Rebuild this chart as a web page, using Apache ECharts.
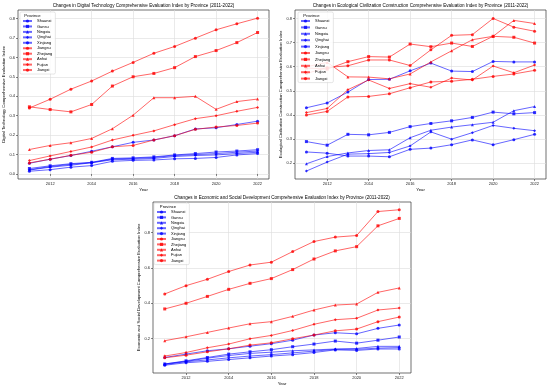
<!DOCTYPE html>
<html><head><meta charset="utf-8">
<script src="https://cdn.jsdelivr.net/npm/echarts@6/dist/echarts.min.js"></script>
<style>html,body{margin:0;padding:0;background:#fff}#c{width:550px;height:387px}</style>
</head><body><div id="c"></div>
<script>
const years = [2011,2012,2013,2014,2015,2016,2017,2018,2019,2020,2021,2022];
const provinces = ['Shaanxi','Gansu','Ningxia','Qinghai','Xinjiang','Jiangsu','Zhejiang','Anhui','Fujian','Jiangxi'];
const xTicks = [2012,2014,2016,2018,2020,2022];
const yTicksDT = [0,0.1,0.2,0.3,0.4,0.5,0.6,0.7,0.8];
const yTicksEC = [0.2,0.3,0.4,0.5,0.6,0.7,0.8];
const yTicksES = [0.2,0.4,0.6,0.8];

// Digital Technology
const dtShaanxi  = [0.055,0.076,0.095,0.117,0.140,0.163,0.175,0.197,0.232,0.238,0.255,0.272];
const dtGansu    = [0.028,0.042,0.053,0.060,0.080,0.083,0.088,0.098,0.105,0.113,0.118,0.125];
const dtNingxia  = [0.022,0.038,0.050,0.058,0.077,0.080,0.085,0.095,0.100,0.105,0.112,0.118];
const dtQinghai  = [0.020,0.035,0.045,0.058,0.073,0.076,0.080,0.090,0.095,0.098,0.105,0.112];
const dtXinjiang = [0.014,0.022,0.035,0.043,0.065,0.070,0.072,0.078,0.080,0.085,0.098,0.105];
const dtJiangsu  = [0.340,0.385,0.437,0.479,0.530,0.575,0.622,0.657,0.700,0.743,0.774,0.803];
const dtZhejiang = [0.346,0.332,0.320,0.358,0.453,0.501,0.518,0.548,0.605,0.636,0.677,0.729];
const dtAnhui    = [0.126,0.147,0.161,0.183,0.233,0.303,0.393,0.393,0.400,0.333,0.373,0.386];
const dtFujian   = [0.069,0.093,0.116,0.139,0.175,0.199,0.222,0.254,0.285,0.300,0.323,0.343];
const dtJiangxi  = [0.057,0.076,0.096,0.112,0.140,0.147,0.175,0.197,0.230,0.242,0.250,0.262];

// Ecological Civilization Construction
const ecShaanxi  = [0.430,0.450,0.495,0.547,0.548,0.583,0.615,0.582,0.580,0.622,0.620,0.620];
const ecGansu    = [0.290,0.275,0.320,0.318,0.328,0.352,0.365,0.376,0.390,0.412,0.405,0.410];
const ecNingxia  = [0.198,0.228,0.243,0.253,0.256,0.306,0.337,0.350,0.360,0.370,0.418,0.435];
const ecQinghai  = [0.168,0.205,0.238,0.240,0.245,0.272,0.330,0.300,0.327,0.357,0.345,0.335];
const ecXinjiang = [0.247,0.242,0.230,0.230,0.227,0.258,0.263,0.277,0.297,0.277,0.298,0.320];
const ecJiangsu  = [0.572,0.597,0.604,0.628,0.628,0.605,0.670,0.730,0.733,0.800,0.764,0.747];
const ecZhejiang = [0.595,0.590,0.621,0.642,0.640,0.694,0.683,0.698,0.684,0.726,0.722,0.698];
const ecAnhui    = [0.600,0.618,0.558,0.557,0.550,0.570,0.620,0.666,0.712,0.726,0.792,0.779];
const ecFujian   = [0.410,0.427,0.505,0.545,0.510,0.530,0.515,0.553,0.545,0.603,0.575,0.607];
const ecJiangxi  = [0.400,0.415,0.475,0.477,0.488,0.513,0.537,0.540,0.548,0.560,0.570,0.585];

// Economic and Social Development
const esShaanxi  = [0.092,0.111,0.130,0.141,0.156,0.170,0.190,0.219,0.232,0.226,0.257,0.276];
const esGansu    = [0.055,0.073,0.092,0.111,0.124,0.136,0.153,0.168,0.185,0.173,0.190,0.208];
const esNingxia  = [0.055,0.070,0.088,0.103,0.115,0.122,0.130,0.135,0.140,0.143,0.155,0.155];
const esQinghai  = [0.052,0.068,0.078,0.090,0.100,0.108,0.118,0.128,0.138,0.138,0.145,0.148];
const esXinjiang = [0.048,0.062,0.070,0.080,0.090,0.100,0.108,0.120,0.135,0.132,0.140,0.140];
const esJiangsu  = [0.452,0.499,0.535,0.579,0.616,0.632,0.692,0.749,0.774,0.783,0.919,0.929];
const esZhejiang = [0.367,0.399,0.438,0.478,0.512,0.539,0.590,0.650,0.696,0.720,0.838,0.880];
const esAnhui    = [0.187,0.209,0.234,0.259,0.283,0.295,0.325,0.361,0.389,0.395,0.461,0.486];
const esFujian   = [0.100,0.120,0.147,0.168,0.198,0.217,0.245,0.280,0.306,0.314,0.361,0.372];
const esJiangxi  = [0.090,0.105,0.124,0.141,0.162,0.175,0.198,0.219,0.243,0.253,0.295,0.321];

const dtData = [dtShaanxi,dtGansu,dtNingxia,dtQinghai,dtXinjiang,dtJiangsu,dtZhejiang,dtAnhui,dtFujian,dtJiangxi];
const ecData = [ecShaanxi,ecGansu,ecNingxia,ecQinghai,ecXinjiang,ecJiangsu,ecZhejiang,ecAnhui,ecFujian,ecJiangxi];
const esData = [esShaanxi,esGansu,esNingxia,esQinghai,esXinjiang,esJiangsu,esZhejiang,esAnhui,esFujian,esJiangxi];

const titles = [
 'Changes in Digital Technology Comprehensive Evaluation Index by Province (2011-2022)',
 'Changes in Ecological Civilization Construction Comprehensive Evaluation Index by Province (2011-2022)',
 'Changes in Economic and Social Development Comprehensive Evaluation Index by Province (2011-2022)'
];
const yNames = [
 'Digital Technology Comprehensive Evaluation Index',
 'Ecological Civilization Construction Comprehensive Evaluation Index',
 'Economic and Social Development Comprehensive Evaluation Index'
];

const FONT = 'Liberation Sans';
const symbols = ['circle','rect','triangle','diamond','circle','circle','rect','triangle','diamond','circle'];
const BLUE = '#0000ff', RED = '#ff0000';

const grids = [
 {left:18, top:10, width:251, height:169},
 {left:295, top:10, width:251, height:169},
 {left:153, top:202, width:258, height:171}
];
const yRanges = [[-0.026,0.845],[0.135,0.835],[0.004,0.973]];
const yTickSets = [yTicksDT, yTicksEC, yTicksES];

const series = [];
[dtData, ecData, esData].forEach((set, g) => {
  set.forEach((arr, i) => {
    const col = i < 5 ? BLUE : RED;
    series.push({
      type:'line', name: provinces[i], xAxisIndex:g, yAxisIndex:g,
      data: years.map((y,k)=>[y, arr[k]]),
      symbol: symbols[i], symbolSize: 3,
      lineStyle:{color:col, width:1, opacity:0.6},
      itemStyle:{color:col, opacity:0.8},
      emphasis:{disabled:true}, animation:false
    });
  });
});

const xAxes = grids.map((_,g)=>({
  type:'value', gridIndex:g, min:2010.45, max:2022.55,
  name:'Year', nameLocation:'middle', nameGap: g===2 ? 9 : 9,
  nameTextStyle:{fontSize:4.3, fontFamily:FONT, color:'#000'},
  axisLine:{show:false},
  axisTick:{show:true, length:2, customValues:xTicks, lineStyle:{color:'#333', width:0.6}},
  axisLabel:{fontSize:4, fontFamily:FONT, color:'#222', margin:3, customValues:xTicks, formatter:v=>String(v)},
  splitLine:{show:true, lineStyle:{color:'#dcdcdc', width:0.6}}
}));
const yAxes = grids.map((_,g)=>({
  type:'value', gridIndex:g, min:yRanges[g][0], max:yRanges[g][1],
  name:yNames[g], nameLocation:'middle', nameGap: 12,
  nameTextStyle:{fontSize:4.2, fontFamily:FONT, color:'#000'},
  axisLine:{show:false},
  axisTick:{show:true, length:2, customValues:yTickSets[g], lineStyle:{color:'#333', width:0.6}},
  axisLabel:{fontSize:4, fontFamily:FONT, color:'#222', margin:3, customValues:yTickSets[g], formatter:v=>v.toFixed(1)},
  splitLine:{show:true, lineStyle:{color:'#dcdcdc', width:0.6}}
}));

const legendPos = [
  {left:20, top:12, gap:1.45},
  {left:298, top:12, gap:2.4},
  {left:154, top:203, gap:1.4}
];
const legends = legendPos.map(p=>({
  left:p.left, top:p.top, orient:'vertical', data:provinces,
  itemWidth:9, itemHeight:4, itemGap:p.gap,
  padding:[7,3,2,2],
  backgroundColor:'rgba(255,255,255,0.85)', borderColor:'#cccccc', borderWidth:0.5, borderRadius:1.5,
  textStyle:{fontSize:4, fontFamily:FONT, color:'#000', lineHeight:4},
  selectedMode:false
}));

const titleComps = [
  {text:titles[0], left:143.5, top:3, textAlign:'center'},
  {text:titles[1], left:420.5, top:3, textAlign:'center'},
  {text:titles[2], left:282, top:195.5, textAlign:'center'}
].map(t=>Object.assign(t,{padding:0, textStyle:{fontSize:4.6, fontWeight:'normal', fontFamily:FONT, color:'#000'}}));
const provTitles = [
  {left:32.5, top:13.5},{left:311.5, top:13.5},{left:168, top:204.5}
].map(t=>Object.assign(t,{text:'Province', textAlign:'center', padding:0, z:10, textStyle:{fontSize:4.2, fontWeight:'normal', fontFamily:FONT, color:'#000'}}));

const chart = echarts.init(document.getElementById('c'), null, {renderer:'canvas'});
chart.setOption({
  animation:false,
  backgroundColor:'#fff',
  title: titleComps.concat(provTitles),
  legend: legends,
  grid: grids.map(g=>Object.assign({show:true, borderColor:'#333', borderWidth:0.7, backgroundColor:'transparent', containLabel:false}, g)),
  xAxis: xAxes, yAxis: yAxes,
  series: series
});
</script></body></html>
